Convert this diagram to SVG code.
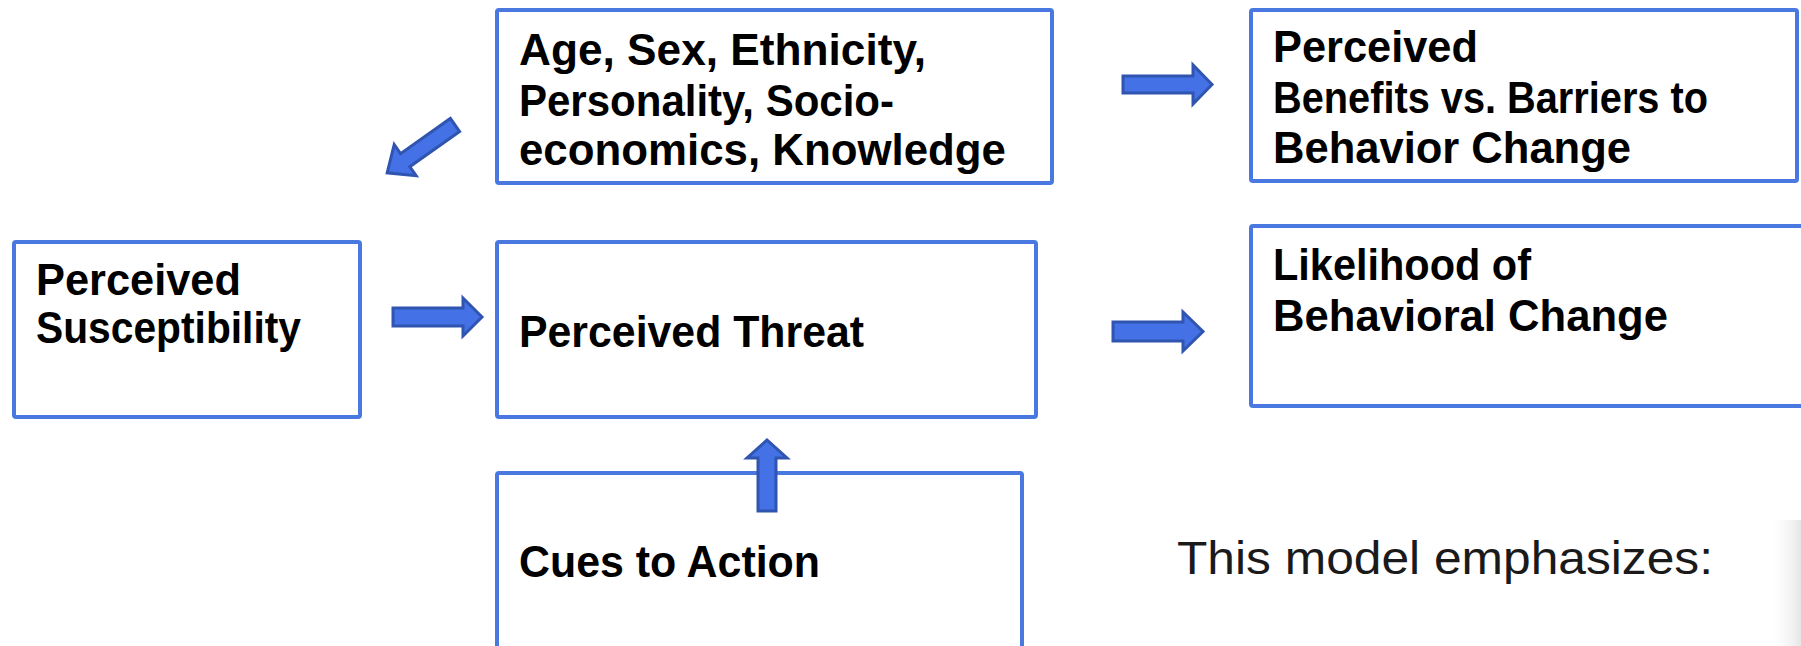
<svg xmlns="http://www.w3.org/2000/svg" width="1801" height="646" viewBox="0 0 1801 646">
<defs>
<style>
.box{fill:#ffffff;stroke:#4878E0;stroke-width:4;stroke-linejoin:round}
.lbl{font-family:"Liberation Sans",Arial,sans-serif;font-weight:bold;font-size:45px;fill:#000000}
.note{font-family:"Liberation Sans",Arial,sans-serif;font-size:46px;fill:#1a1a1a}
.arr{fill:#4472E6;stroke:#2F55B0;stroke-width:3;stroke-linejoin:miter}
</style>
<linearGradient id="shade" x1="0" y1="0" x2="1" y2="0">
<stop offset="0" stop-color="#ffffff" stop-opacity="0"/>
<stop offset="1" stop-color="#e6e6e6" stop-opacity="1"/>
</linearGradient>
</defs>
<rect x="0" y="0" width="1801" height="646" fill="#ffffff"/>
<rect x="1768" y="520" width="33" height="126" fill="url(#shade)"/>

<g id="node-demographics">
<rect class="box" x="497" y="10" width="555" height="173" rx="2"/>
<text class="lbl" x="519" y="65" textLength="407" lengthAdjust="spacingAndGlyphs">Age, Sex, Ethnicity,</text>
<text class="lbl" x="519" y="116" textLength="375" lengthAdjust="spacingAndGlyphs">Personality, Socio-</text>
<text class="lbl" x="519" y="165" textLength="487" lengthAdjust="spacingAndGlyphs">economics, Knowledge</text>
</g>

<g id="node-benefits">
<rect class="box" x="1251" y="10" width="546" height="171" rx="2"/>
<text class="lbl" x="1273" y="62" textLength="205" lengthAdjust="spacingAndGlyphs">Perceived</text>
<text class="lbl" x="1273" y="113" textLength="435" lengthAdjust="spacingAndGlyphs">Benefits vs. Barriers to</text>
<text class="lbl" x="1273" y="163" textLength="358" lengthAdjust="spacingAndGlyphs">Behavior Change</text>
</g>

<g id="node-susceptibility">
<rect class="box" x="14" y="242" width="346" height="175" rx="2"/>
<text class="lbl" x="36" y="295" textLength="205" lengthAdjust="spacingAndGlyphs">Perceived</text>
<text class="lbl" x="36" y="343" textLength="265" lengthAdjust="spacingAndGlyphs">Susceptibility</text>
</g>

<g id="node-threat">
<rect class="box" x="497" y="242" width="539" height="175" rx="2"/>
<text class="lbl" x="519" y="347" textLength="345" lengthAdjust="spacingAndGlyphs">Perceived Threat</text>
</g>

<g id="node-likelihood">
<rect class="box" x="1251" y="226" width="560" height="180" rx="2"/>
<text class="lbl" x="1273" y="280" textLength="258" lengthAdjust="spacingAndGlyphs">Likelihood of</text>
<text class="lbl" x="1273" y="331" textLength="395" lengthAdjust="spacingAndGlyphs">Behavioral Change</text>
</g>

<g id="node-cues">
<rect class="box" x="497" y="473" width="525" height="185" rx="2"/>
<text class="lbl" x="519" y="577" textLength="301" lengthAdjust="spacingAndGlyphs">Cues to Action</text>
</g>

<g id="note">
<text class="note" x="1177" y="574" textLength="536" lengthAdjust="spacingAndGlyphs">This model emphasizes:</text>
</g>

<g id="connectors">
<path class="arr" transform="translate(455,125) rotate(144.8)" d="M0,-8 L61,-8 L61,-19 L83,0 L61,19 L61,8 L0,8 Z"/>
<path class="arr" d="M393,308 L463,308 L463,298 L482,317 L463,336 L463,326 L393,326 Z"/>
<path class="arr" d="M1123,76 L1193,76 L1193,65 L1212,84.5 L1193,104 L1193,93 L1123,93 Z"/>
<path class="arr" d="M1113,322 L1183,322 L1183,312 L1203,331.5 L1183,351 L1183,341 L1113,341 Z"/>
<path class="arr" d="M758,511 L758,458 L747,458 L767,440 L787,458 L776,458 L776,511 Z"/>
</g>
</svg>
